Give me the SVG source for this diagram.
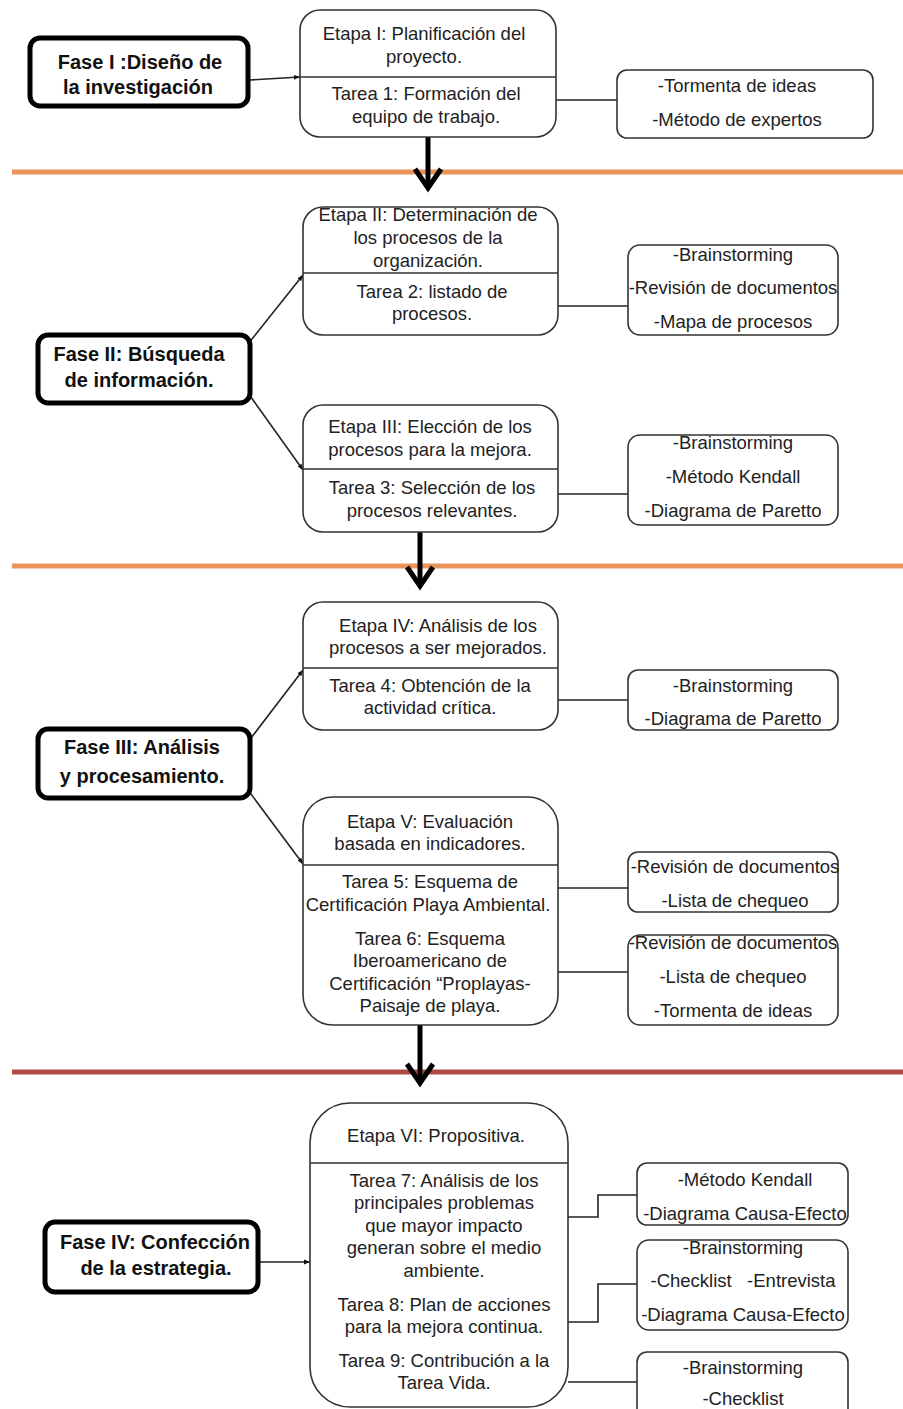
<svg xmlns="http://www.w3.org/2000/svg" width="903" height="1409" viewBox="0 0 903 1409">
<defs>
<style>
.bg{fill:#ffffff}
.fase{fill:#ffffff;stroke:#000;stroke-width:5}
.etapa{fill:#ffffff;stroke:#333;stroke-width:1.6}
.tool{fill:#ffffff;stroke:#333;stroke-width:1.6}
.div{stroke:#333;stroke-width:1.6}
.t{font-family:"Liberation Sans",Arial,sans-serif;font-size:18.5px;fill:#222;text-anchor:middle;white-space:pre}
.tb{font-family:"Liberation Sans",Arial,sans-serif;font-size:20px;font-weight:bold;fill:#111;text-anchor:middle}
.ln{fill:none;stroke:#222;stroke-width:1.6}
.big{fill:none;stroke:#000;stroke-width:5;stroke-linecap:butt}
.head{fill:none;stroke:#000;stroke-width:5;stroke-linejoin:miter}
.sepO{stroke:#e8945a;stroke-width:5}
.sepR{stroke:#b04848;stroke-width:5}
</style>
<marker id="ah" viewBox="0 0 10 10" refX="10" refY="5" markerWidth="6" markerHeight="6" orient="auto" markerUnits="userSpaceOnUse">
<path d="M0,1 L10,5 L0,9 z" fill="#111"/>
</marker>
</defs>
<rect class="bg" x="0" y="0" width="903" height="1409"/>

<!-- separators -->
<g id="separators">
<line class="sepO" x1="12" y1="172" x2="903" y2="172"/>
<line class="sepO" x1="12" y1="566" x2="903" y2="566"/>
<line class="sepR" x1="12" y1="1072" x2="903" y2="1072"/>
</g>

<!-- connectors -->
<g id="connectors">
<line class="ln" x1="250" y1="80" x2="300" y2="77" marker-end="url(#ah)"/>
<line class="ln" x1="556" y1="100" x2="617" y2="100"/>
<line class="big" x1="428" y1="137" x2="428" y2="188"/>
<path class="head" d="M415,169 L428,188 L441,169"/>

<line class="ln" x1="248" y1="344" x2="303" y2="275" marker-end="url(#ah)"/>
<line class="ln" x1="248" y1="393" x2="303" y2="470" marker-end="url(#ah)"/>
<line class="ln" x1="558" y1="306" x2="628" y2="306"/>
<line class="ln" x1="558" y1="494" x2="628" y2="494"/>
<line class="big" x1="420" y1="532" x2="420" y2="586"/>
<path class="head" d="M407,567 L420,586 L433,567"/>

<line class="ln" x1="248" y1="742" x2="303" y2="670" marker-end="url(#ah)"/>
<line class="ln" x1="248" y1="790" x2="303" y2="864" marker-end="url(#ah)"/>
<line class="ln" x1="558" y1="700" x2="628" y2="700"/>
<line class="ln" x1="558" y1="888" x2="628" y2="888"/>
<line class="ln" x1="558" y1="972" x2="628" y2="972"/>
<line class="big" x1="420" y1="1025" x2="420" y2="1083"/>
<path class="head" d="M407,1064 L420,1083 L433,1064"/>

<line class="ln" x1="258" y1="1262" x2="310" y2="1262" marker-end="url(#ah)"/>
<path class="ln" d="M568,1217 H598 V1195 H637"/>
<path class="ln" d="M568,1322 H598 V1284 H637"/>
<line class="ln" x1="568" y1="1382" x2="637" y2="1382"/>
</g>

<!-- Fase I -->
<g id="fase1">
<rect class="fase" x="30" y="38" width="218" height="68" rx="10"/>
<text class="tb" x="140" y="69">Fase I :Diseño de</text>
<text class="tb" x="138" y="94">la investigación</text>
</g>
<g id="etapa1">
<rect class="etapa" x="300" y="10" width="256" height="127" rx="20"/>
<line class="div" x1="300" y1="77" x2="556" y2="77"/>
<text class="t" x="424" y="40">Etapa I: Planificación del</text>
<text class="t" x="424" y="63">proyecto.</text>
<text class="t" x="426" y="100">Tarea 1: Formación del</text>
<text class="t" x="426" y="123">equipo de trabajo.</text>
</g>
<g id="tools1">
<rect class="tool" x="617" y="70" width="256" height="68" rx="10"/>
<text class="t" x="737" y="92">-Tormenta de ideas</text>
<text class="t" x="737" y="126">-Método de expertos</text>
</g>

<!-- Fase II -->
<g id="fase2">
<rect class="fase" x="38" y="335" width="212" height="68" rx="10"/>
<text class="tb" x="139" y="361">Fase II: Búsqueda</text>
<text class="tb" x="139" y="387">de información.</text>
</g>
<g id="etapa2">
<rect class="etapa" x="303" y="207" width="255" height="128" rx="20"/>
<line class="div" x1="303" y1="273" x2="558" y2="273"/>
<text class="t" x="428" y="221">Etapa II: Determinación de</text>
<text class="t" x="428" y="244">los procesos de la</text>
<text class="t" x="428" y="267">organización.</text>
<text class="t" x="432" y="298">Tarea 2: listado de</text>
<text class="t" x="432" y="320">procesos.</text>
</g>
<g id="tools2">
<rect class="tool" x="628" y="245" width="210" height="90" rx="12"/>
<text class="t" x="733" y="261">-Brainstorming</text>
<text class="t" x="733" y="294">-Revisión de documentos</text>
<text class="t" x="733" y="328">-Mapa de procesos</text>
</g>
<g id="etapa3">
<rect class="etapa" x="303" y="405" width="255" height="127" rx="20"/>
<line class="div" x1="303" y1="469" x2="558" y2="469"/>
<text class="t" x="430" y="433">Etapa III: Elección de los</text>
<text class="t" x="430" y="456">procesos para la mejora.</text>
<text class="t" x="432" y="494">Tarea 3: Selección de los</text>
<text class="t" x="432" y="517">procesos relevantes.</text>
</g>
<g id="tools3">
<rect class="tool" x="628" y="435" width="210" height="90" rx="12"/>
<text class="t" x="733" y="449">-Brainstorming</text>
<text class="t" x="733" y="483">-Método Kendall</text>
<text class="t" x="733" y="517">-Diagrama de Paretto</text>
</g>

<!-- Fase III -->
<g id="fase3">
<rect class="fase" x="38" y="729" width="212" height="69" rx="10"/>
<text class="tb" x="142" y="754">Fase III: Análisis</text>
<text class="tb" x="142" y="783">y procesamiento.</text>
</g>
<g id="etapa4">
<rect class="etapa" x="303" y="602" width="255" height="128" rx="20"/>
<line class="div" x1="303" y1="668" x2="558" y2="668"/>
<text class="t" x="438" y="632">Etapa IV: Análisis de los</text>
<text class="t" x="438" y="654">procesos a ser mejorados.</text>
<text class="t" x="430" y="692">Tarea 4: Obtención de la</text>
<text class="t" x="430" y="714">actividad crítica.</text>
</g>
<g id="tools4">
<rect class="tool" x="628" y="670" width="210" height="60" rx="10"/>
<text class="t" x="733" y="692">-Brainstorming</text>
<text class="t" x="733" y="725">-Diagrama de Paretto</text>
</g>
<g id="etapa5">
<rect class="etapa" x="303" y="797" width="255" height="228" rx="30"/>
<line class="div" x1="303" y1="865" x2="558" y2="865"/>
<text class="t" x="430" y="828">Etapa V: Evaluación</text>
<text class="t" x="430" y="850">basada en indicadores.</text>
<text class="t" x="430" y="888">Tarea 5: Esquema de</text>
<text class="t" x="428" y="911">Certificación Playa Ambiental.</text>
<text class="t" x="430" y="945">Tarea 6: Esquema</text>
<text class="t" x="430" y="967">Iberoamericano de</text>
<text class="t" x="430" y="990">Certificación “Proplayas-</text>
<text class="t" x="430" y="1012">Paisaje de playa.</text>
</g>
<g id="tools5">
<rect class="tool" x="628" y="852" width="210" height="60" rx="10"/>
<text class="t" x="735" y="873">-Revisión de documentos</text>
<text class="t" x="735" y="907">-Lista de chequeo</text>
</g>
<g id="tools6">
<rect class="tool" x="628" y="935" width="210" height="90" rx="12"/>
<text class="t" x="733" y="949">-Revisión de documentos</text>
<text class="t" x="733" y="983">-Lista de chequeo</text>
<text class="t" x="733" y="1017">-Tormenta de ideas</text>
</g>

<!-- Fase IV -->
<g id="fase4">
<rect class="fase" x="45" y="1222" width="213" height="70" rx="10"/>
<text class="tb" x="155" y="1249">Fase IV: Confección</text>
<text class="tb" x="156" y="1275">de la estrategia.</text>
</g>
<g id="etapa6">
<rect class="etapa" x="310" y="1103" width="258" height="304" rx="40"/>
<line class="div" x1="310" y1="1163" x2="568" y2="1163"/>
<text class="t" x="436" y="1142">Etapa VI: Propositiva.</text>
<text class="t" x="444" y="1187">Tarea 7: Análisis de los</text>
<text class="t" x="444" y="1209">principales problemas</text>
<text class="t" x="444" y="1232">que mayor impacto</text>
<text class="t" x="444" y="1254">generan sobre el medio</text>
<text class="t" x="444" y="1277">ambiente.</text>
<text class="t" x="444" y="1311">Tarea 8: Plan de acciones</text>
<text class="t" x="444" y="1333">para la mejora continua.</text>
<text class="t" x="444" y="1367">Tarea 9: Contribución a la</text>
<text class="t" x="444" y="1389">Tarea Vida.</text>
</g>
<g id="tools7">
<rect class="tool" x="637" y="1163" width="211" height="62" rx="10"/>
<text class="t" x="745" y="1186">-Método Kendall</text>
<text class="t" x="745" y="1220">-Diagrama Causa-Efecto</text>
</g>
<g id="tools8">
<rect class="tool" x="637" y="1240" width="211" height="90" rx="12"/>
<text class="t" x="743" y="1254">-Brainstorming</text>
<text class="t" x="743" y="1287" xml:space="preserve">-Checklist   -Entrevista</text>
<text class="t" x="743" y="1321">-Diagrama Causa-Efecto</text>
</g>
<g id="tools9">
<rect class="tool" x="637" y="1352" width="211" height="70" rx="10"/>
<text class="t" x="743" y="1374">-Brainstorming</text>
<text class="t" x="743" y="1405">-Checklist</text>
</g>
</svg>
